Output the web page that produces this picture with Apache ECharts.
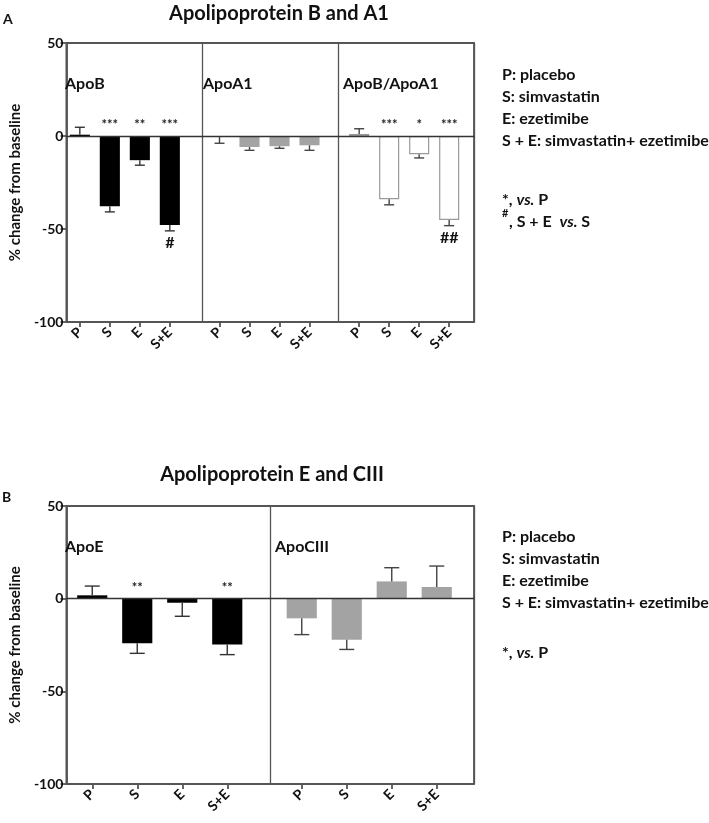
<!DOCTYPE html>
<html>
<head>
<meta charset="utf-8">
<script src="https://cdn.jsdelivr.net/npm/echarts/dist/echarts.min.js"></script>
<style>
html,body{margin:0;padding:0;background:#fff;}
#c{width:709px;height:823px;}
</style>
</head>
<body>
<div id="c"></div>
<script>
// ---------- data ----------
const categories = ['P', 'S', 'E', 'S+E'];
const yTicks = [-100, -50, 0, 50];

// Panel A
const apoB      = [0.7, -37.8, -13.0, -47.8];
const apoBErr   = [4.0, 3.0, 2.7, 3.2];
const apoA1     = [-0.4, -5.9, -5.5, -5.0];
const apoA1Err  = [3.5, 1.8, 1.1, 2.7];
const apoBA1    = [1.1, -34.0, -9.8, -45.2];
const apoBA1Err = [2.8, 3.0, 2.0, 3.0];
const sigApoB    = ['', '***', '**', '***'];
const hashApoB   = ['', '', '', '#'];
const sigApoA1   = ['', '', '', ''];
const hashApoA1  = ['', '', '', ''];
const sigApoBA1  = ['', '***', '*', '***'];
const hashApoBA1 = ['', '', '', '##'];

// Panel B
const apoE      = [1.8, -24.1, -2.2, -24.7];
const apoEErr   = [5.0, 5.4, 7.3, 5.5];
const apoC3     = [-10.6, -22.1, 9.3, 6.3];
const apoC3Err  = [8.8, 5.3, 7.4, 11.3];
const sigApoE   = ['', '**', '', '**'];
const hashApoE  = ['', '', '', ''];
const sigApoC3  = ['', '', '', ''];
const hashApoC3 = ['', '', '', ''];

// ---------- layout ----------
const FONT = 'Lato, "Open Sans", "DejaVu Sans", sans-serif';
const AXC = '#555';
const frames = [
  {left: 55, top: 43, width: 419, height: 279, sections: 3, inner: 120},
  {left: 55, top: 506, width: 419, height: 278, sections: 2, inner: 180}
];
const sections = [
  {panel: 0, vals: apoB, errs: apoBErr, sig: sigApoB, hash: hashApoB, color: '#000', border: '#000', err: '#333', cap: 5},
  {panel: 0, vals: apoA1, errs: apoA1Err, sig: sigApoA1, hash: hashApoA1, color: '#a3a3a3', border: '#a3a3a3', err: '#444', cap: 5},
  {panel: 0, vals: apoBA1, errs: apoBA1Err, sig: sigApoBA1, hash: hashApoBA1, color: '#fff', border: '#9a9a9a', err: '#444', cap: 5},
  {panel: 1, vals: apoE, errs: apoEErr, sig: sigApoE, hash: hashApoE, color: '#000', border: '#000', err: '#333', cap: 7.5},
  {panel: 1, vals: apoC3, errs: apoC3Err, sig: sigApoC3, hash: hashApoC3, color: '#a3a3a3', border: '#a3a3a3', err: '#444', cap: 7.5}
];
const starLevel = 6;
const hashGap = 6.5;

const grid = [], xAxis = [], yAxis = [], series = [];

function valueY(show, gi) {
  return {
    gridIndex: gi, type: 'value', min: yTicks[0], max: yTicks[yTicks.length - 1], interval: 50,
    show: show,
    axisLine: {show: true, lineStyle: {color: AXC, width: 1.8}},
    axisTick: {show: true, length: 6, lineStyle: {color: AXC, width: 1.8}},
    axisLabel: {color: '#111', fontFamily: FONT, fontWeight: 'bold', fontSize: 14, margin: 3},
    splitLine: {show: false},
    name: show ? '% change from baseline' : '',
    nameLocation: 'middle', nameGap: 39,
    nameTextStyle: {color: '#111', fontFamily: FONT, fontWeight: 'bold', fontSize: 15}
  };
}

// frame grids
frames.forEach((f, p) => {
  const gi = grid.length;
  grid.push({left: f.left, top: f.top, width: f.width, height: f.height, show: true,
    borderColor: AXC, borderWidth: 1.8, backgroundColor: '#fff'});
  xAxis.push({gridIndex: gi, type: 'value', min: 0, max: f.sections, interval: 1,
    axisLine: {show: true, onZero: true, lineStyle: {color: '#333', width: 1.3}},
    axisTick: {show: false}, axisLabel: {show: false},
    splitLine: {show: true, lineStyle: {color: AXC, width: 1.3}}, z: 5});
  yAxis.push(valueY(true, gi));
});

// section grids
const secCount = [0, 0];
sections.forEach((s) => {
  const f = frames[s.panel];
  const k = secCount[s.panel]++;
  const sw = f.width / f.sections;
  const inset = (sw - f.inner) / 2;
  const gi = grid.length;
  grid.push({left: f.left + k * sw + inset, top: f.top, width: f.inner, height: f.height});
  xAxis.push({gridIndex: gi, type: 'category', data: categories, position: 'bottom',
    axisLine: {show: false, onZero: false},
    axisTick: {show: true, alignWithLabel: true, length: 5, lineStyle: {color: AXC, width: 1.8}},
    axisLabel: {rotate: 45, color: '#111', fontFamily: FONT, fontWeight: 'bold', fontSize: 14, margin: 8},
    splitLine: {show: false}});
  yAxis.push(valueY(false, gi));

  series.push({type: 'bar', xAxisIndex: gi, yAxisIndex: gi, data: s.vals, barWidth: '67%',
    itemStyle: {color: s.color, borderColor: s.border, borderWidth: s.color === '#fff' ? 1.2 : 0},
    z: 2, silent: true});

  series.push({type: 'custom', xAxisIndex: gi, yAxisIndex: gi, z: 3, silent: true,
    data: s.vals.map((v, i) => [i, v, s.errs[i]]),
    renderItem: function (params, api) {
      const i = api.value(0), v = api.value(1), e = api.value(2);
      const end = v >= 0 ? v + e : v - e;
      const p0 = api.coord([i, v]);
      const p1 = api.coord([i, end]);
      const st = {stroke: s.err, lineWidth: 1.4};
      return {type: 'group', children: [
        {type: 'line', shape: {x1: p0[0], y1: p0[1], x2: p1[0], y2: p1[1]}, style: st},
        {type: 'line', shape: {x1: p1[0] - s.cap, y1: p1[1], x2: p1[0] + s.cap, y2: p1[1]}, style: st}
      ]};
    }});

  // significance stars
  series.push({type: 'custom', xAxisIndex: gi, yAxisIndex: gi, z: 4, silent: true,
    data: s.sig.map((t, i) => [i, starLevel]),
    renderItem: function (params, api) {
      const t = s.sig[params.dataIndex];
      if (!t) return null;
      const p = api.coord([api.value(0), api.value(1)]);
      return {type: 'text', x: p[0], y: p[1], style: {text: t, align: 'center', verticalAlign: 'middle',
        fill: '#222', font: 'bold 13px ' + FONT}};
    }});
  // hashes below bars
  series.push({type: 'custom', xAxisIndex: gi, yAxisIndex: gi, z: 4, silent: true,
    data: s.hash.map((t, i) => [i, s.vals[i] - s.errs[i] - hashGap]),
    renderItem: function (params, api) {
      const t = s.hash[params.dataIndex];
      if (!t) return null;
      const p = api.coord([api.value(0), api.value(1)]);
      return {type: 'text', x: p[0], y: p[1], style: {text: t, align: 'center', verticalAlign: 'middle',
        fill: '#111', font: 'bold 16px ' + FONT}};
    }});
});

// ---------- free texts ----------
function txt(x, y, text, size, opts) {
  return Object.assign({type: 'text', x: x, y: y, z: 10, silent: true,
    style: Object.assign({text: text, fill: '#111', font: 'bold ' + size + 'px ' + FONT,
      verticalAlign: 'middle'}, opts || {})});
}
const NS = 16;
const richNote = {
  b: {fontFamily: FONT, fontWeight: 'bold', fontSize: NS, fill: '#111'},
  i: {fontFamily: FONT, fontWeight: 'bold', fontStyle: 'italic', fontSize: NS, fill: '#111'}
};
function note(x, y, text) {
  return {type: 'text', x: x, y: y, z: 10, silent: true,
    style: {text: text, rich: richNote, verticalAlign: 'middle', fill: '#111',
      font: 'bold ' + NS + 'px ' + FONT}};
}
const legendLines = ['P: placebo', 'S: simvastatin', 'E: ezetimibe', 'S + E: simvastatin+ ezetimibe'];
const graphics = [
  txt(279, 14, 'Apolipoprotein B and A1', 20, {align: 'center'}),
  txt(3, 19, 'A', 14),
  txt(272, 475, 'Apolipoprotein E and CIII', 20, {align: 'center'}),
  txt(2, 497, 'B', 14),
  txt(65, 84, 'ApoB', 16),
  txt(203, 84, 'ApoA1', 16),
  txt(343, 84, 'ApoB/ApoA1', 16),
  txt(65, 547, 'ApoE', 16),
  txt(275, 547, 'ApoCIII', 16)
];
legendLines.forEach((l, k) => {
  graphics.push(note(502, 75 + k * 22, '{b|' + l + '}'));
  graphics.push(note(502, 537 + k * 22, '{b|' + l + '}'));
});
graphics.push(note(502, 200, '{b|*, }{i|vs.}{b| P}'));
graphics.push(txt(502, 213, '#', 11));
graphics.push(note(509, 222, '{b|, S + E  }{i|vs.}{b| S}'));
graphics.push(note(502, 653, '{b|*, }{i|vs.}{b| P}'));

const chart = echarts.init(document.getElementById('c'), null, {renderer: 'canvas'});
chart.setOption({
  animation: false,
  backgroundColor: '#fff',
  grid: grid, xAxis: xAxis, yAxis: yAxis, series: series,
  graphic: graphics
});
</script>
</body>
</html>
